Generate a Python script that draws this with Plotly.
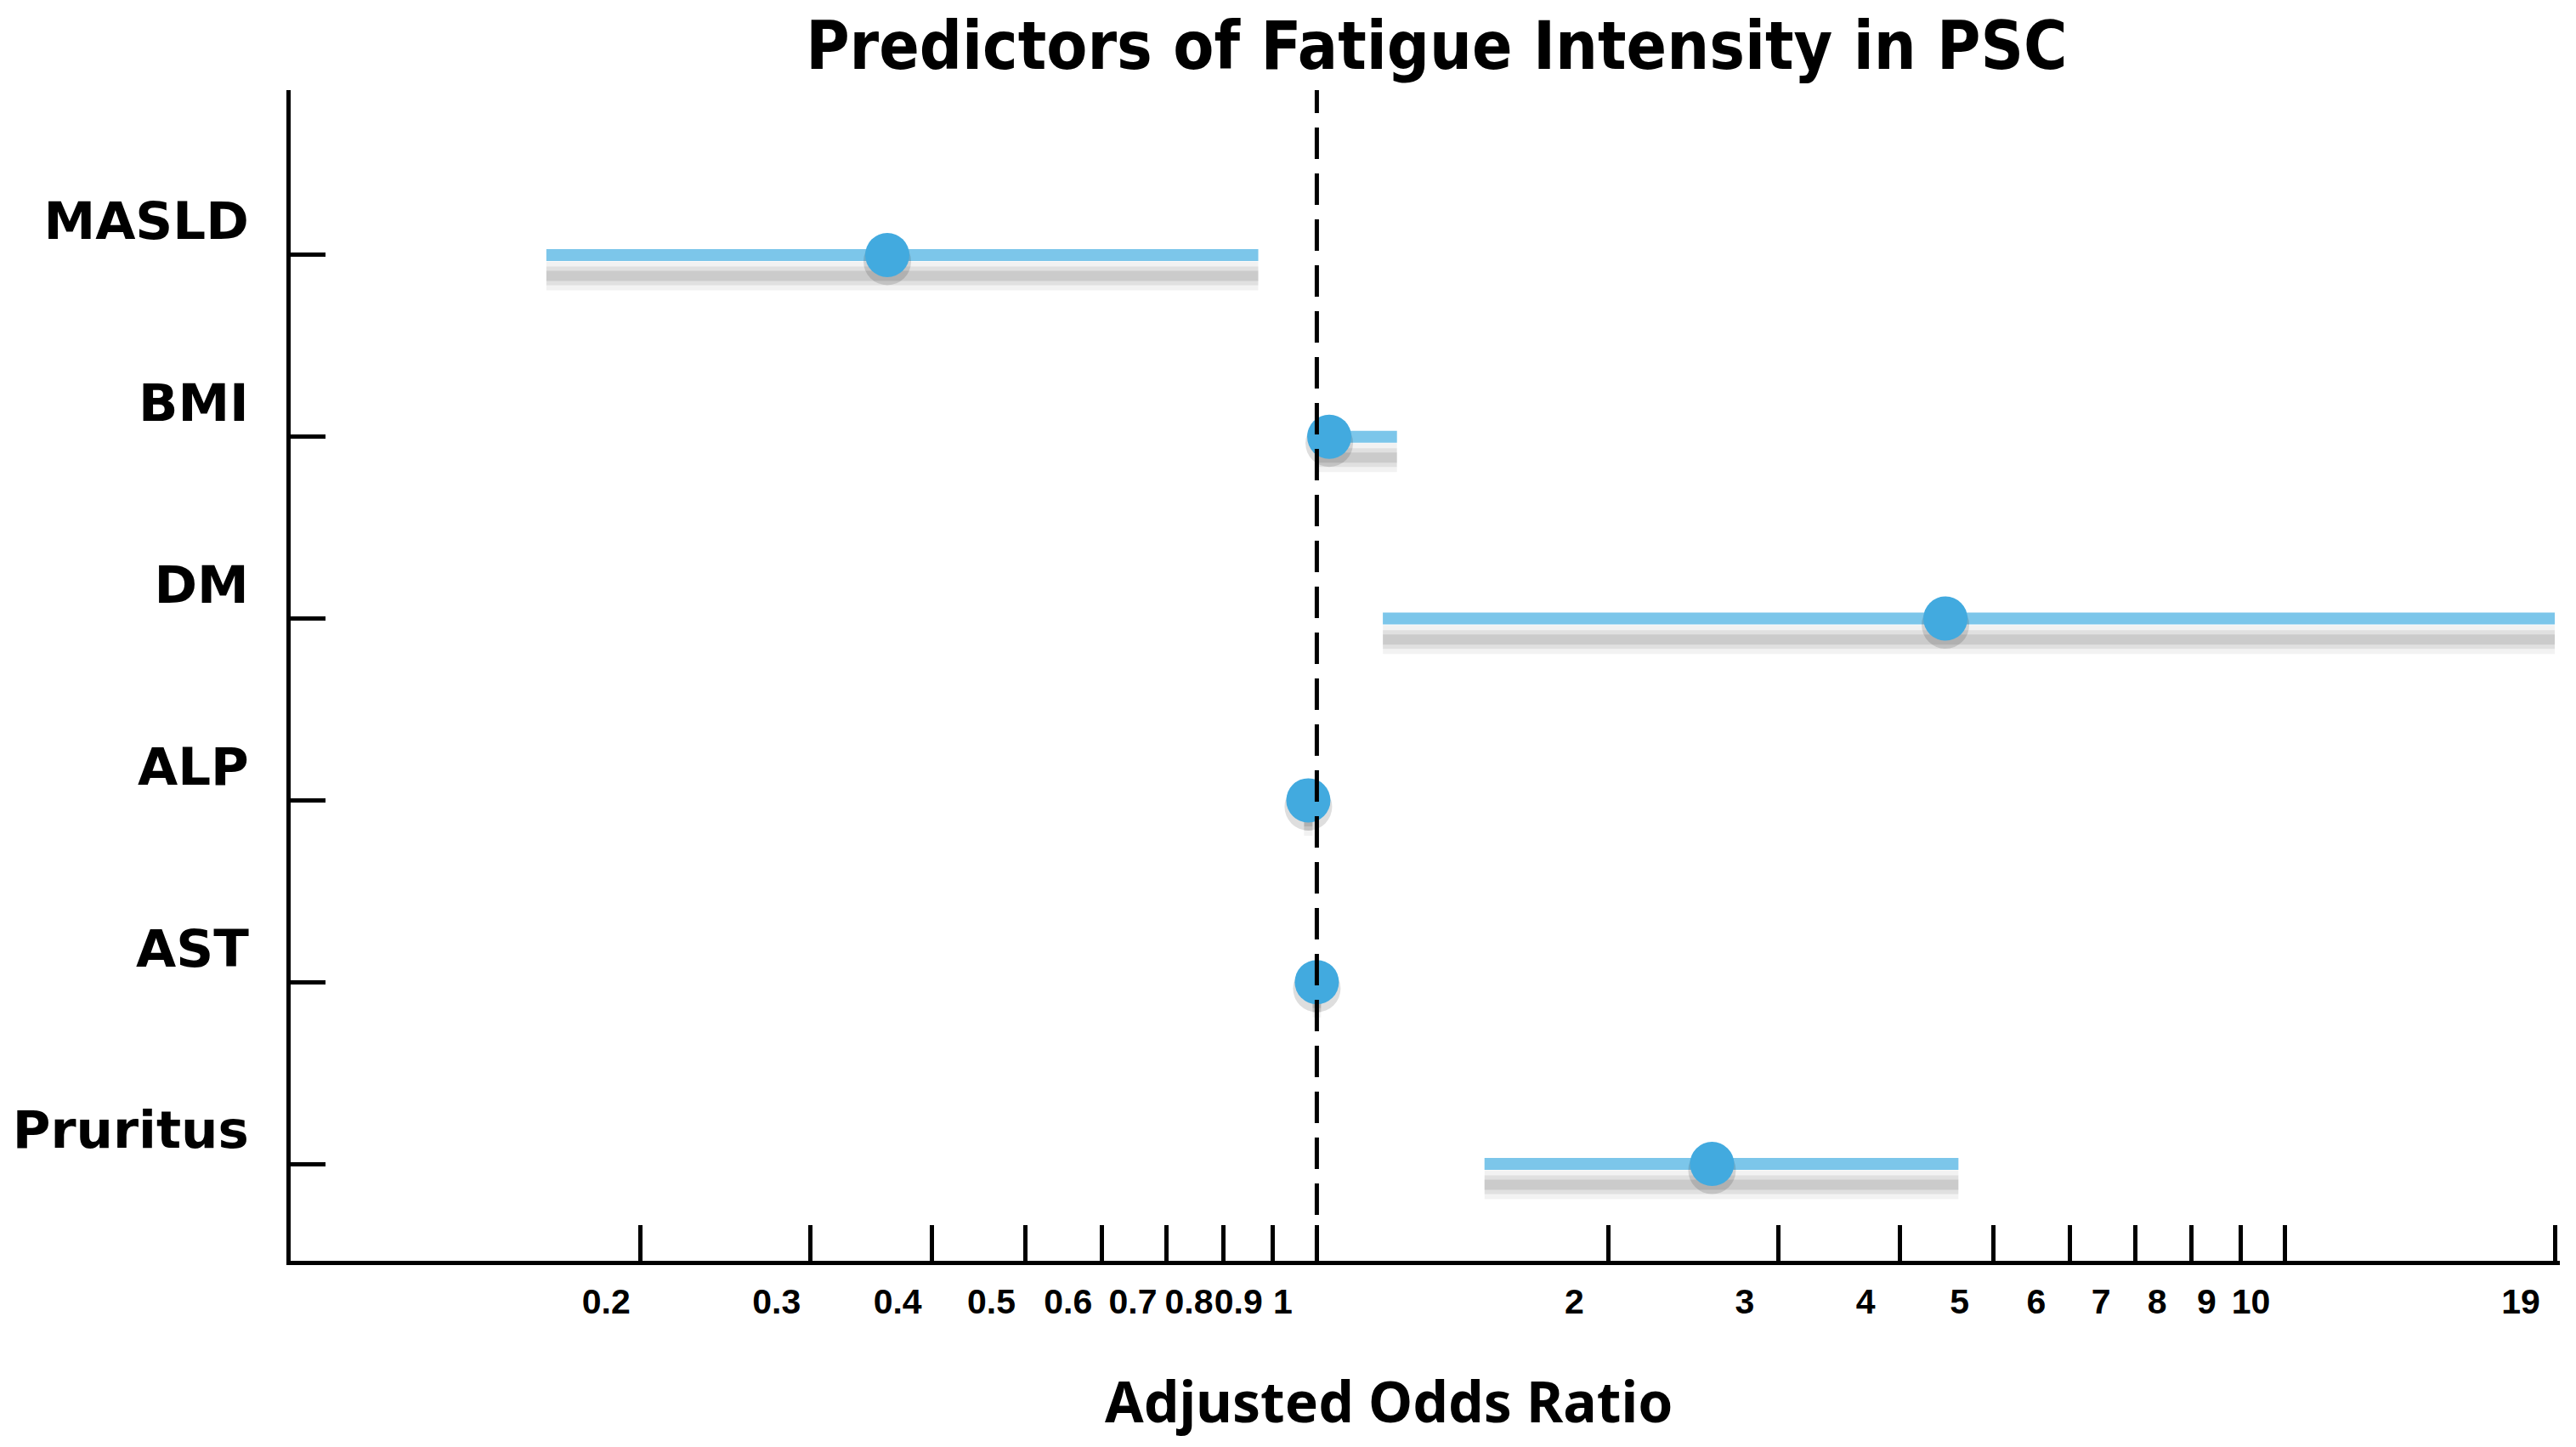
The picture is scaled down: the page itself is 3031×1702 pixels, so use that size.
import plotly.graph_objects as go

# ---------------- data ----------------
categories = ["MASLD", "BMI", "DM", "ALP", "AST", "Pruritus"]
odds_ratio = [0.36, 1.03, 4.46, 0.98, 1.00, 2.56]
ci_lower = [0.16, 1.00, 1.17, 0.97, 0.99, 1.49]
ci_upper = [0.87, 1.21, 19.0, 0.99, 1.01, 4.60]

tick_values = [0.2, 0.3, 0.4, 0.5, 0.6, 0.7, 0.8, 0.9, 1, 2, 3, 4, 5, 6, 7, 8, 9, 10, 19]
tick_labels = ["0.2", "0.3", "0.4", "0.5", "0.6", "0.7", "0.8", "0.9", "1",
               "2", "3", "4", "5", "6", "7", "8", "9", "10", "19"]
null_or = 1

title_text = "Predictors of Fatigue Intensity in PSC"
x_title = "Adjusted Odds Ratio"

# ---------------- style ----------------
W, H = 3015, 1686          # page body has an 8px margin
TITLE_FONT = "'DejaVu Sans Condensed', 'DejaVu Sans', sans-serif"
HEADING = "'Noto Sans', 'Liberation Sans', sans-serif"
TICKS = "'Liberation Sans', Arial, sans-serif"
WIDE = "'DejaVu Sans', Verdana, sans-serif"
LINE_COLOR = "#7CC6EA"
MARKER_COLOR = "#42AADF"
SHADOW_DY = 0.115
MARKER_SHADOW_DY = 0.035

n = len(categories)
ypos = [n - 1 - i for i in range(n)]

fig = go.Figure()

# soft shadows under CI lines
sx, sy = [], []
for lo, hi, yp in zip(ci_lower, ci_upper, ypos):
    sx += [lo, hi, None]
    sy += [yp - SHADOW_DY, yp - SHADOW_DY, None]
for w, a in [(34, 0.05), (22, 0.07), (12, 0.09)]:
    fig.add_trace(go.Scatter(x=sx, y=sy, mode="lines",
                             line=dict(color=f"rgba(0,0,0,{a})", width=w),
                             hoverinfo="skip", showlegend=False))

# CI lines
lx, ly = [], []
for lo, hi, yp in zip(ci_lower, ci_upper, ypos):
    lx += [lo, hi, None]
    ly += [yp, yp, None]
fig.add_trace(go.Scatter(x=lx, y=ly, mode="lines",
                         line=dict(color=LINE_COLOR, width=14),
                         hoverinfo="skip", showlegend=False))

# marker shadows
fig.add_trace(go.Scatter(x=odds_ratio, y=[y - MARKER_SHADOW_DY for y in ypos], mode="markers",
                         marker=dict(size=56, color="rgba(0,0,0,0.13)", line=dict(width=0)),
                         hoverinfo="skip", showlegend=False))
# point estimates
fig.add_trace(go.Scatter(x=odds_ratio, y=ypos, mode="markers",
                         marker=dict(size=52, color=MARKER_COLOR, line=dict(width=0)),
                         text=categories, showlegend=False))

# reference line at OR = 1
fig.add_shape(type="line", xref="x", yref="paper", x0=null_or, x1=null_or, y0=0, y1=1,
              line=dict(color="black", width=5, dash="37px,17px"))

# x-axis title
fig.add_annotation(text=x_title, xref="paper", yref="paper", x=0.484, y=-0.119,
                   xanchor="center", yanchor="middle", showarrow=False,
                   font=dict(family=HEADING, size=66, color="black", weight="bold"))

fig.update_layout(
    width=W, height=H,
    margin=dict(l=334, r=11, t=98, b=211, autoexpand=False),
    paper_bgcolor="white", plot_bgcolor="white",
    title=dict(text=title_text, x=0.558, xanchor="center", xref="container",
               y=1 - 46 / H, yanchor="middle", yref="container",
               font=dict(family=TITLE_FONT, size=78, color="black", weight="bold")),
    showlegend=False,
)

fig.update_xaxes(
    type="log", range=[-1.06, 1.284], automargin=False,
    tickvals=tick_values, ticktext=tick_labels, tickangle=0,
    ticks="inside", ticklen=42, tickwidth=5, tickcolor="black",
    showline=True, linecolor="black", linewidth=5,
    showgrid=False, zeroline=False,
    ticklabelshift=-40, ticklabelstandoff=8,
    tickfont=dict(family=TICKS, size=41, color="black", weight="bold"),
)

fig.update_yaxes(
    range=[-0.533, 5.907], automargin=False,
    tickvals=ypos, ticktext=categories,
    ticks="inside", ticklen=41, tickwidth=5, tickcolor="black",
    showline=True, linecolor="black", linewidth=5,
    showgrid=False, zeroline=False,
    ticklabelshift=-40, ticklabelstandoff=32,
    tickfont=dict(family=WIDE, size=61, color="black", weight="bold"),
)

fig.write_html("out.html")
